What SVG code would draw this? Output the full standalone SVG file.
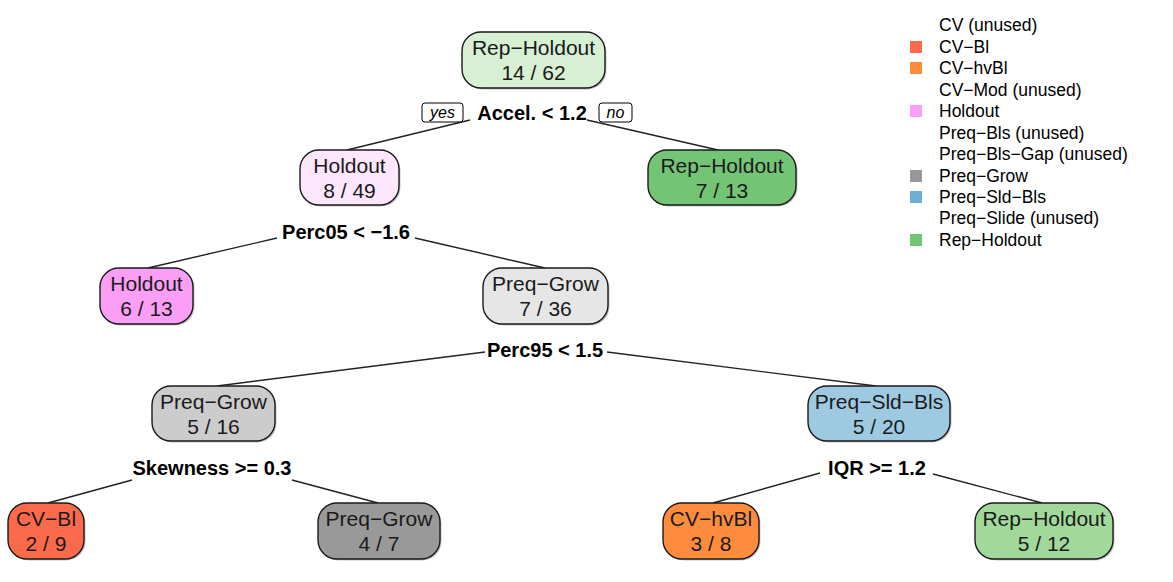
<svg xmlns="http://www.w3.org/2000/svg" width="1173" height="582" viewBox="0 0 1173 582">
<style>
.box{stroke:#1a1a1a;stroke-width:1.4}
.shadow{fill:#555;opacity:0.35}
.nt{font-family:"Liberation Sans",Arial,sans-serif;font-size:21px;fill:#1a1a1a;text-anchor:middle}
.sp{font-family:"Liberation Sans",Arial,sans-serif;font-size:20px;font-weight:bold;fill:#000;text-anchor:middle}
.yn{font-family:"Liberation Sans",Arial,sans-serif;font-size:16px;font-style:italic;fill:#000;text-anchor:middle}
.ynb{fill:#fff;stroke:#000;stroke-width:1}
.lg{font-family:"Liberation Sans",Arial,sans-serif;font-size:17.5px;fill:#000}
.edge{stroke:#222;stroke-width:1.4;fill:none}
</style>
<rect width="1173" height="582" fill="#fff"/>
<g id="connectors">
<line class="edge" x1="470" y1="120" x2="347" y2="150"/>
<line class="edge" x1="587" y1="120" x2="718" y2="150"/>
<line class="edge" x1="277" y1="238" x2="148" y2="268"/>
<line class="edge" x1="415" y1="238" x2="545" y2="268"/>
<line class="edge" x1="485" y1="352" x2="217" y2="386"/>
<line class="edge" x1="607" y1="352" x2="876" y2="386"/>
<line class="edge" x1="132" y1="480" x2="48" y2="503"/>
<line class="edge" x1="292" y1="480" x2="378" y2="503"/>
<line class="edge" x1="820" y1="473" x2="713" y2="503"/>
<line class="edge" x1="933" y1="474" x2="1042" y2="503"/>
</g>
<g id="split-labels">
<rect class="ynb" x="422" y="103" width="41" height="19" rx="3"/>
<text class="yn" x="442.5" y="118">yes</text>
<rect class="ynb" x="599" y="103" width="33" height="19" rx="3"/>
<text class="yn" x="615.5" y="118">no</text>
<text class="sp" x="532" y="120">Accel. &lt; 1.2</text>
<text class="sp" x="346" y="239">Perc05 &lt; −1.6</text>
<text class="sp" x="545" y="357">Perc95 &lt; 1.5</text>
<text class="sp" x="212" y="475">Skewness &gt;= 0.3</text>
<text class="sp" x="877" y="475">IQR &gt;= 1.2</text>
</g>
<g id="node1">
<rect class="shadow" x="463.5" y="33.5" width="143" height="56" rx="19"/>
<rect class="box" x="462" y="32" width="143" height="56" rx="19" fill="#d7efd2"/>
<text class="nt" x="533.5" y="55">Rep−Holdout</text>
<text class="nt" x="533.5" y="80">14 / 62</text>
</g>
<g id="node2">
<rect class="shadow" x="301.5" y="151.5" width="99" height="55" rx="19"/>
<rect class="box" x="300" y="150" width="99" height="55" rx="19" fill="#fde7fc"/>
<text class="nt" x="349.5" y="173">Holdout</text>
<text class="nt" x="349.5" y="198">8 / 49</text>
</g>
<g id="node3">
<rect class="shadow" x="649.5" y="151.5" width="148" height="55" rx="19"/>
<rect class="box" x="648" y="150" width="148" height="55" rx="19" fill="#74c476"/>
<text class="nt" x="722" y="173">Rep−Holdout</text>
<text class="nt" x="722" y="198">7 / 13</text>
</g>
<g id="node4">
<rect class="shadow" x="101.5" y="269.5" width="93" height="56" rx="19"/>
<rect class="box" x="100" y="268" width="93" height="56" rx="19" fill="#fa9ef6"/>
<text class="nt" x="146.5" y="291">Holdout</text>
<text class="nt" x="146.5" y="316">6 / 13</text>
</g>
<g id="node5">
<rect class="shadow" x="484.5" y="269.5" width="125" height="56" rx="19"/>
<rect class="box" x="483" y="268" width="125" height="56" rx="19" fill="#e6e6e6"/>
<text class="nt" x="545.5" y="291">Preq−Grow</text>
<text class="nt" x="545.5" y="316">7 / 36</text>
</g>
<g id="node10">
<rect class="shadow" x="153.5" y="387.5" width="123" height="55" rx="19"/>
<rect class="box" x="152" y="386" width="123" height="55" rx="19" fill="#cccccc"/>
<text class="nt" x="213.5" y="409">Preq−Grow</text>
<text class="nt" x="213.5" y="434">5 / 16</text>
</g>
<g id="node11">
<rect class="shadow" x="809.5" y="387.5" width="142" height="55" rx="19"/>
<rect class="box" x="808" y="386" width="142" height="55" rx="19" fill="#9ecae1"/>
<text class="nt" x="879" y="409">Preq−Sld−Bls</text>
<text class="nt" x="879" y="434">5 / 20</text>
</g>
<g id="node20">
<rect class="shadow" x="9.5" y="504.5" width="76" height="56" rx="19"/>
<rect class="box" x="8" y="503" width="76" height="56" rx="19" fill="#fb6a4a"/>
<text class="nt" x="46" y="526">CV−Bl</text>
<text class="nt" x="46" y="551">2 / 9</text>
</g>
<g id="node21">
<rect class="shadow" x="319.5" y="504.5" width="122" height="56" rx="19"/>
<rect class="box" x="318" y="503" width="122" height="56" rx="19" fill="#999999"/>
<text class="nt" x="379" y="526">Preq−Grow</text>
<text class="nt" x="379" y="551">4 / 7</text>
</g>
<g id="node22">
<rect class="shadow" x="664.5" y="504.5" width="96" height="56" rx="19"/>
<rect class="box" x="663" y="503" width="96" height="56" rx="19" fill="#fd8d3c"/>
<text class="nt" x="711" y="526">CV−hvBl</text>
<text class="nt" x="711" y="551">3 / 8</text>
</g>
<g id="node23">
<rect class="shadow" x="976.5" y="504.5" width="138" height="56" rx="19"/>
<rect class="box" x="975" y="503" width="138" height="56" rx="19" fill="#a1d99b"/>
<text class="nt" x="1044" y="526">Rep−Holdout</text>
<text class="nt" x="1044" y="551">5 / 12</text>
</g>
<g id="legend">
<text class="lg" x="939" y="31">CV (unused)</text>
<rect x="910" y="41" width="12" height="12" fill="#fb6a4a"/>
<text class="lg" x="939" y="53">CV−Bl</text>
<rect x="910" y="62" width="12" height="12" fill="#fd8d3c"/>
<text class="lg" x="939" y="74">CV−hvBl</text>
<text class="lg" x="939" y="96">CV−Mod (unused)</text>
<rect x="910" y="105" width="12" height="12" fill="#fa9ef6"/>
<text class="lg" x="939" y="117">Holdout</text>
<text class="lg" x="939" y="139">Preq−Bls (unused)</text>
<text class="lg" x="939" y="160">Preq−Bls−Gap (unused)</text>
<rect x="910" y="170" width="12" height="12" fill="#999999"/>
<text class="lg" x="939" y="182">Preq−Grow</text>
<rect x="910" y="191" width="12" height="12" fill="#6baed6"/>
<text class="lg" x="939" y="203">Preq−Sld−Bls</text>
<text class="lg" x="939" y="224">Preq−Slide (unused)</text>
<rect x="910" y="234" width="12" height="12" fill="#74c476"/>
<text class="lg" x="939" y="246">Rep−Holdout</text>
</g>
</svg>
